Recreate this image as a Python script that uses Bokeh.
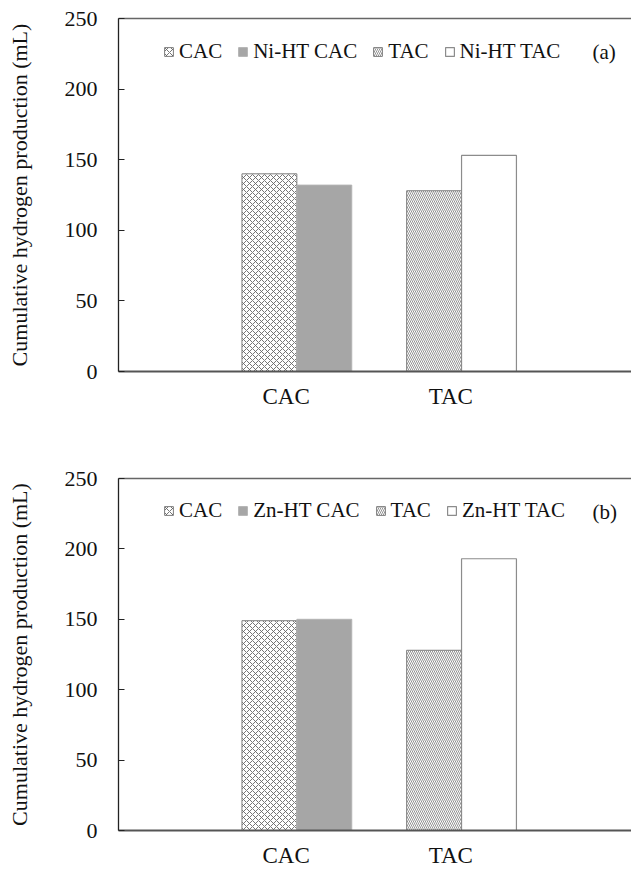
from bokeh.plotting import figure
from bokeh.models import (Range1d, FixedTicker, LinearAxis, Legend, LegendItem, Label)
from bokeh.layouts import column
from bokeh.embed import file_html
from bokeh.resources import INLINE

# ---- data ----
categories = ["CAC", "TAC"]
series_category = ["CAC", "CAC", "TAC", "TAC"]
series_a = ["CAC", "Ni-HT CAC", "TAC", "Ni-HT TAC"]
values_a = [140, 132, 128, 153]
series_b = ["CAC", "Zn-HT CAC", "TAC", "Zn-HT TAC"]
values_b = [149, 150, 128, 193]
y_ticks = [0, 50, 100, 150, 200, 250]
y_title = "Cumulative hydrogen production (mL)"
panel_tags = ["(a)", "(b)"]

FONT = "Liberation Serif"
BAR_W = 1 / 3
LABEL_SHIFT = -0.065

styles = [
    dict(fill_color="white", line_color="#7f7f7f", hatch_pattern="diagonal_cross",
         hatch_color="#666666", hatch_scale=6, hatch_weight=0.9),
    dict(fill_color="#a6a6a6", line_color="#b3b3b3"),
    dict(fill_color="white", line_color="#7f7f7f", hatch_pattern="left_diagonal_line",
         hatch_color="#777777", hatch_scale=4, hatch_weight=0.8),
    dict(fill_color="white", line_color="#8c8c8c", line_width=1.2),
]


def make_panel(series, values, tag, height, top, bottom):
    p = figure(width=631, height=height, x_range=Range1d(-0.083, 3.032),
               y_range=Range1d(0, 250), output_backend="svg", toolbar_location=None,
               min_border_left=118, min_border_right=0, min_border_top=top,
               min_border_bottom=bottom)
    p.outline_line_color = None
    p.xgrid.visible = False
    p.ygrid.visible = False
    p.background_fill_color = "white"

    cat_pos = {c: i + 1 for i, c in enumerate(categories)}
    seen = {}
    items = []
    for s, v, c, st in zip(series, values, series_category, styles):
        k = seen.get(c, 0)
        seen[c] = k + 1
        x = cat_pos[c] + (k - 0.5) * BAR_W
        r = p.vbar(x=[x], top=[v], bottom=0, width=BAR_W, **st)
        items.append(LegendItem(label=s, renderers=[r]))

    ya = p.yaxis[0]
    ya.ticker = FixedTicker(ticks=y_ticks)
    ya.major_tick_in = 6
    ya.major_tick_out = 0
    ya.minor_tick_line_color = None
    ya.major_tick_line_color = "#222222"
    ya.axis_line_color = "#222222"
    ya.axis_line_width = 1.3
    ya.major_label_standoff = 21
    ya.major_label_text_font = FONT
    ya.major_label_text_font_size = "22px"
    ya.major_label_text_color = "#111111"
    ya.axis_label = y_title
    ya.axis_label_text_font = FONT
    ya.axis_label_text_font_size = "22px"
    ya.axis_label_text_font_style = "normal"
    ya.axis_label_text_color = "#111111"
    ya.axis_label_standoff = 30

    xa = p.xaxis[0]
    ticks = [cat_pos[c] + LABEL_SHIFT for c in categories]
    xa.ticker = FixedTicker(ticks=ticks)
    xa.major_label_overrides = {t: c for t, c in zip(ticks, categories)}
    xa.major_tick_line_color = None
    xa.minor_tick_line_color = None
    xa.axis_line_color = "#555555"
    xa.axis_line_width = 2
    xa.major_label_standoff = 6
    xa.major_label_text_font = FONT
    xa.major_label_text_font_size = "23px"
    xa.major_label_text_color = "#111111"

    ta = LinearAxis(ticker=FixedTicker(ticks=[]), axis_line_color="#666666",
                    axis_line_width=1.5, major_tick_line_color=None,
                    minor_tick_line_color=None)
    p.add_layout(ta, "above")

    legend = Legend(items=items, orientation="horizontal", location=(45, 307),
                    glyph_width=11, glyph_height=11, label_standoff=5, spacing=15,
                    padding=0, margin=0, border_line_color=None,
                    background_fill_alpha=0, label_text_font=FONT,
                    label_text_font_size="21px", label_text_color="#111111")
    p.add_layout(legend, "center")

    p.add_layout(Label(x=2.795, y=226, text=tag, text_font=FONT,
                       text_font_size="21px", text_baseline="middle",
                       text_align="left", text_color="#111111"))
    return p


pa = make_panel(series_a, values_a, panel_tags[0], 430, 18, 59)
pb = make_panel(series_b, values_b, panel_tags[1], 440, 48, 39)
layout = column(pa, pb, spacing=0)

open("out.html", "w").write(file_html(layout, INLINE))
